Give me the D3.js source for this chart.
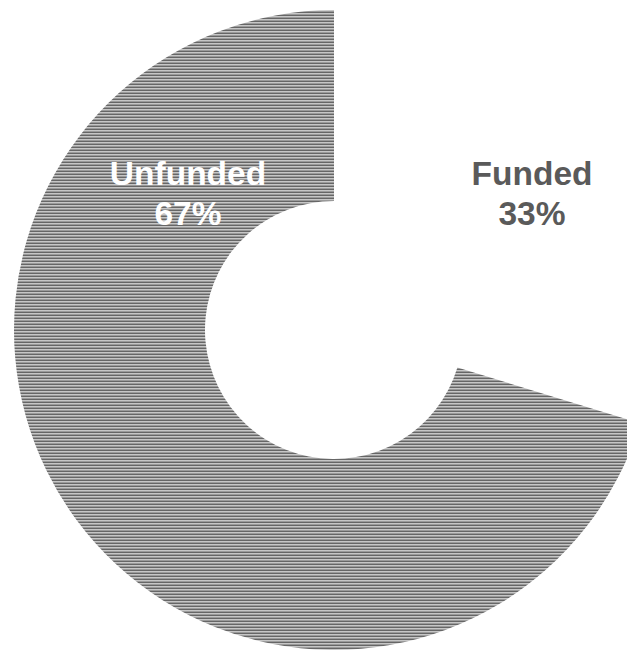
<!DOCTYPE html>
<html>
  <head>
    <meta charset="utf-8"/>
    <title>Funded vs Unfunded</title>
    <style>
      body { margin: 0; background: #fff; }
      .label { font-family: "Liberation Sans", Arial, sans-serif; font-weight: bold; font-size: 33.5px; }
    </style>
    <script src="https://d3js.org/d3.v7.min.js"></script>
  </head>
  <body>
    <svg id="chart" width="627" height="657"></svg>
    <script>
      // data
      var categories = ["Funded", "Unfunded"];
      var sliceSizes = [29.7, 70.3];      // measured from the wedge angles
      var pctLabels = ["33%", "67%"];

      var width = 627, height = 657;
      var cx = 334, cy = 330;
      var outerR = 320, innerR = 129;

      var svg = d3.select("#chart");

      // striped grey fill, like the scan
      var defs = svg.append("defs");
      var pat = defs.append("pattern")
        .attr("id", "stripes")
        .attr("patternUnits", "userSpaceOnUse")
        .attr("width", 8).attr("height", 3);
      pat.append("rect").attr("width", 8).attr("height", 3).attr("fill", "#c6c6c6");
      pat.append("rect").attr("y", 0).attr("width", 8).attr("height", 1).attr("fill", "#666666");
      pat.append("rect").attr("y", 2).attr("width", 8).attr("height", 1).attr("fill", "#9a9a9a");

      var fills = d3.scaleOrdinal()
        .domain(categories)
        .range(["none", "url(#stripes)"]);

      var pie = d3.pie().sort(null).value(function(d) { return d.value; });
      var arc = d3.arc().innerRadius(innerR).outerRadius(outerR);

      var data = categories.map(function(c, i) {
        return { name: c, value: sliceSizes[i], pct: pctLabels[i] };
      });

      var g = svg.append("g").attr("transform", "translate(" + cx + "," + cy + ")");

      g.selectAll(".slice")
        .data(pie(data))
        .enter().append("path")
        .attr("class", "slice")
        .attr("d", arc)
        .attr("fill", function(d) { return fills(d.data.name); });

      // label spots (relative to centre)
      var labelPos = { "Funded": [198, -145], "Unfunded": [-146, -145] };
      var labelColor = { "Funded": "#5a5a5a", "Unfunded": "#ffffff" };

      var labels = g.selectAll(".label")
        .data(data)
        .enter().append("text")
        .attr("class", "label")
        .attr("text-anchor", "middle")
        .attr("fill", function(d) { return labelColor[d.name]; })
        .attr("transform", function(d) {
          var p = labelPos[d.name];
          return "translate(" + p[0] + "," + p[1] + ")";
        });

      labels.append("tspan").attr("x", 0).attr("y", 0).text(function(d) { return d.name; });
      labels.append("tspan").attr("x", 0).attr("y", 40).text(function(d) { return d.pct; });
    </script>
  </body>
</html>
